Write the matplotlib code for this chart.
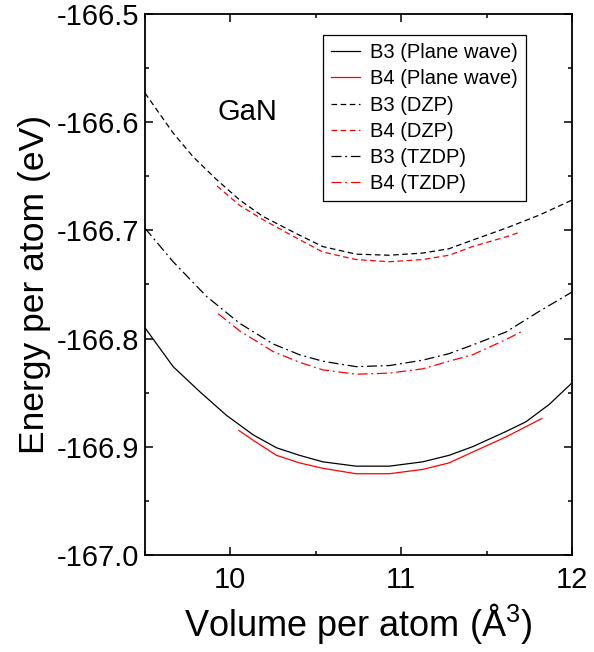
import matplotlib
matplotlib.use("Agg")
import matplotlib.pyplot as plt
from matplotlib.ticker import MultipleLocator, FormatStrFormatter

plt.rcParams['font.family'] = ['Liberation Sans', 'DejaVu Sans']
plt.rcParams['mathtext.fontset'] = 'custom'
plt.rcParams['mathtext.rm'] = 'Liberation Sans'
plt.rcParams['mathtext.default'] = 'regular'
plt.rcParams['axes.unicode_minus'] = False

# B3 / B4 energy-volume curves for GaN
v_b3_pw = [9.50, 9.665, 9.82, 9.977, 10.133, 10.27, 10.405, 10.541, 10.736, 10.931, 11.126,
           11.28, 11.418, 11.613, 11.73, 11.866, 12.00]
e_b3_pw = [-166.790, -166.826, -166.849, -166.871, -166.889, -166.901, -166.908, -166.914,
           -166.918, -166.918, -166.914, -166.908, -166.900, -166.886, -166.877, -166.861, -166.841]

v_b4_pw = [10.05, 10.133, 10.27, 10.405, 10.541, 10.736, 10.931, 11.126, 11.28, 11.418, 11.613, 11.823]
e_b4_pw = [-166.885, -166.894, -166.908, -166.915, -166.920, -166.925, -166.925, -166.921,
           -166.915, -166.905, -166.891, -166.874]

v_b3_dzp = [9.50, 9.665, 9.782, 9.919, 10.055, 10.19, 10.386, 10.541, 10.736, 10.931, 11.126,
            11.28, 11.418, 11.613, 11.807, 12.00]
e_b3_dzp = [-166.573, -166.610, -166.632, -166.653, -166.672, -166.687, -166.703, -166.715,
            -166.722, -166.723, -166.721, -166.717, -166.709, -166.698, -166.686, -166.672]

v_b4_dzp = [9.922, 10.055, 10.19, 10.386, 10.541, 10.736, 10.931, 11.126, 11.28, 11.418, 11.613, 11.69]
e_b4_dzp = [-166.659, -166.677, -166.690, -166.707, -166.720, -166.727, -166.729, -166.727,
            -166.723, -166.715, -166.706, -166.702]

v_b3_tzdp = [9.50, 9.665, 9.86, 10.055, 10.25, 10.405, 10.541, 10.736, 10.931, 11.126, 11.28,
             11.418, 11.613, 11.807, 12.00]
e_b3_tzdp = [-166.698, -166.729, -166.761, -166.786, -166.805, -166.815, -166.821, -166.826,
             -166.825, -166.820, -166.814, -166.806, -166.794, -166.775, -166.757]

v_b4_tzdp = [9.928, 10.055, 10.25, 10.405, 10.541, 10.736, 10.931, 11.126, 11.28, 11.418, 11.613, 11.70]
e_b4_tzdp = [-166.777, -166.793, -166.812, -166.822, -166.829, -166.833, -166.832, -166.828,
             -166.821, -166.815, -166.801, -166.794]

fig = plt.figure(figsize=(5.94, 6.52), dpi=100)
ax = fig.add_axes([0.244, 0.149, 0.719, 0.8295])

lw = 0.9
dash = (0, (4.5, 2.8))
dashdot = (0, (8, 3, 1.5, 3))
ax.plot(v_b3_pw, e_b3_pw, color='black', lw=lw, linestyle='-', label='B3 (Plane wave)')
ax.plot(v_b4_pw, e_b4_pw, color='red', lw=lw, linestyle='-', label='B4 (Plane wave)')
ax.plot(v_b3_dzp, e_b3_dzp, color='black', lw=lw, linestyle=dash, label='B3 (DZP)')
ax.plot(v_b4_dzp, e_b4_dzp, color='red', lw=lw, linestyle=dash, label='B4 (DZP)')
ax.plot(v_b3_tzdp, e_b3_tzdp, color='black', lw=lw, linestyle=dashdot, label='B3 (TZDP)')
ax.plot(v_b4_tzdp, e_b4_tzdp, color='red', lw=lw, linestyle=dashdot, label='B4 (TZDP)')

ax.set_xlim(9.5, 12)
ax.set_ylim(-167.0, -166.5)
ax.xaxis.set_major_locator(MultipleLocator(1))
ax.xaxis.set_minor_locator(MultipleLocator(0.5))
ax.yaxis.set_major_locator(MultipleLocator(0.1))
ax.yaxis.set_minor_locator(MultipleLocator(0.05))
ax.yaxis.set_major_formatter(FormatStrFormatter('%.1f'))

ax.tick_params(which='both', direction='in', top=True, right=True, width=1.1)
ax.tick_params(which='major', length=6, labelsize=21)
ax.tick_params(which='minor', length=3)
ax.tick_params(axis='x', pad=8)
ax.tick_params(axis='y', pad=4)
for s in ax.spines.values():
    s.set_linewidth(1.3)

ax.set_xlabel('Volume per atom (Å$^{3}$)', fontsize=26, labelpad=5)
ax.set_ylabel('Energy per atom (eV)', fontsize=25.5, labelpad=4)

ax.text(9.926, -166.598, 'GaN', fontsize=21, ha='left', va='baseline')

leg = ax.legend(loc='upper right', bbox_to_anchor=(0.892, 0.961), borderaxespad=0,
                fontsize=14.5, frameon=True, fancybox=False, framealpha=1,
                edgecolor='black', handlelength=1.45, handletextpad=0.5,
                labelspacing=0.36, borderpad=0.4)
leg.get_frame().set_linewidth(0.9)

fig.savefig('out.png', dpi=100)
